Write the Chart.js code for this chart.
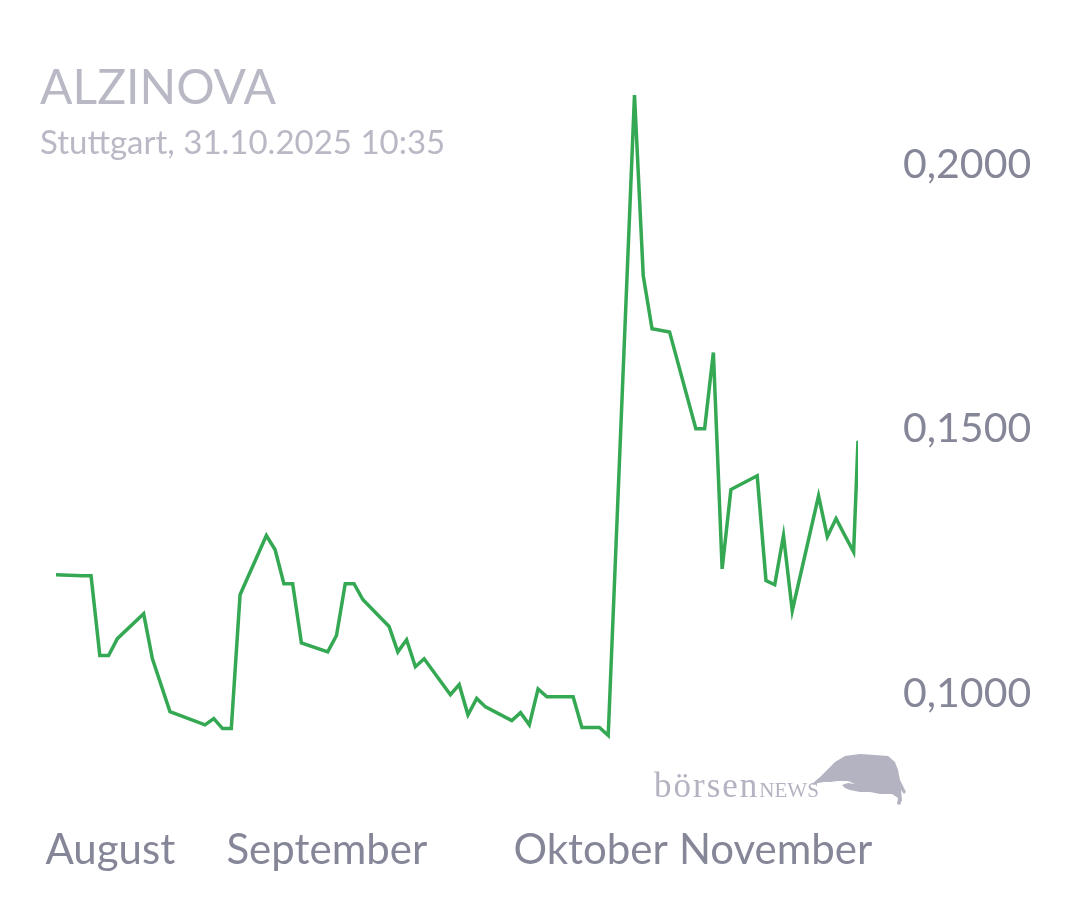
<!DOCTYPE html>
<html>

<head>
  <title>ALZINOVA</title>
  <script src="https://cdn.jsdelivr.net/npm/chart.js"></script>
  <style>
    body {
      margin: 0;
      background: #fff;
    }

    .wrap {
      position: relative;
      width: 1080px;
      height: 900px;
    }

    .title {
      position: absolute;
      left: 40px;
      top: 57px;
      font-family: Lato, sans-serif;
      font-size: 48px;
      color: #b9b9c6;
    }

    .subtitle {
      position: absolute;
      left: 40px;
      top: 121px;
      font-family: Lato, sans-serif;
      font-size: 33px;
      color: #b9b9c6;
    }

    .brand {
      position: absolute;
      left: 654px;
      top: 766px;
      font-family: "Liberation Serif", serif;
      font-size: 35px;
      letter-spacing: 2px;
      color: #b3b3c2;
    }

    .brand span {
      font-size: 21px;
      letter-spacing: 0;
    }

    .bull {
      position: absolute;
      left: 800px;
      top: 750px;
    }
  </style>
</head>

<body>
  <div class="wrap">
    <canvas id="chart" width="1080" height="900"></canvas>
    <div class="title">ALZINOVA</div>
    <div class="subtitle">Stuttgart, 31.10.2025 10:35</div>
    <div class="brand">börsen<span>NEWS</span></div>
    <svg class="bull" width="110" height="65" viewBox="0 0 110 65">
      <path d="M12 34 L20 27 L25 22 L35 12 L45 6 L60 4 L75 5 L88 6 L95 12 L98 20 L100 30 L104 38 L106 42 L104 44 L101 40 L102 50 L100 55 L97 54 L98 48 L92 44 L80 44 L70 42 L60 42 L50 40 L45 38 L42 35 L48 33 L55 34 L48 31 L38 31 L30 32 L24 32 L18 33 L14 35 Z" fill="#b3b3c2" />
    </svg>
  </div>
  <script>
    // trading day index (0 = first day shown) and close price at that day
    const dayIndex = [0, 3, 4, 5, 6, 7, 10, 11, 13, 17, 18, 19, 20, 21, 24, 25, 26, 27, 28, 31, 32, 33, 34, 35,
      38, 39, 40, 41, 42, 45, 46, 47, 48, 49, 52, 53, 54, 55, 56, 59, 60, 62, 63, 66, 67, 68, 70,
      73, 74, 75, 76, 77, 80, 81, 82, 83, 84, 87, 88, 89, 90, 91, 91.5];
    const prices = [0.1225, 0.1223, 0.1223, 0.1072, 0.1072, 0.1104, 0.1151, 0.1066, 0.0966, 0.0941, 0.0953,
      0.0934, 0.0934, 0.1187, 0.1299, 0.1272, 0.1208, 0.1208, 0.1096, 0.1079, 0.1110, 0.1208, 0.1208, 0.1178,
      0.1127, 0.1079, 0.1102, 0.1051, 0.1066, 0.0998, 0.1017, 0.0960, 0.0991, 0.0975, 0.0949, 0.0964, 0.0941,
      0.1009, 0.0994, 0.0994, 0.0936, 0.0936, 0.0921, 0.2132, 0.1790, 0.1690, 0.1684, 0.1501, 0.1501, 0.1645,
      0.1236, 0.1386, 0.1412, 0.1214, 0.1206, 0.1299, 0.1157, 0.1374, 0.1297, 0.1331, 0.1299, 0.1268, 0.1478];

    // month labels and where they sit on the day axis
    const monthLabels = ['August', 'September', 'Oktober', 'November'];
    const monthPos = [6.2, 30.9, 61, 82.1];

    const yTicks = [0.1, 0.15, 0.2];

    const points = dayIndex.map((d, i) => ({ x: d, y: prices[i] }));
    const axisColor = '#868699';

    new Chart(document.getElementById('chart'), {
      type: 'line',
      data: {
        datasets: [{
          data: points,
          borderColor: '#34a853',
          borderWidth: 3.5,
          pointRadius: 0,
          tension: 0,
          fill: false
        }]
      },
      options: {
        responsive: false,
        animation: false,
        layout: {
          padding: { left: 56, top: 59, right: 0, bottom: 0 }
        },
        plugins: {
          legend: { display: false },
          tooltip: { enabled: false }
        },
        scales: {
          x: {
            type: 'linear',
            min: 0,
            max: 91.5,
            grid: { display: false, drawTicks: false },
            border: { display: false },
            afterBuildTicks: (scale) => {
              scale.ticks = monthPos.map(v => ({ value: v }));
            },
            afterFit: (scale) => {
              scale.height = 127;
              // labels are not at the edges, so no extra side padding
              scale.paddingLeft = 0;
              scale.paddingRight = 0;
            },
            ticks: {
              autoSkip: false,
              maxRotation: 0,
              padding: 52,
              color: axisColor,
              font: { family: 'Lato', size: 42 },
              callback: (value, index) => monthLabels[index]
            }
          },
          y: {
            position: 'right',
            min: 0.085,
            max: 0.22,
            grid: { display: false, drawTicks: false },
            border: { display: false },
            afterBuildTicks: (scale) => {
              scale.ticks = yTicks.map(v => ({ value: v }));
            },
            afterFit: (scale) => {
              scale.width = 222;
              scale.paddingTop = 0;
              scale.paddingBottom = 0;
            },
            ticks: {
              crossAlign: 'center',
              padding: 45,
              color: axisColor,
              font: { family: 'Lato', size: 41 },
              callback: (value) => value.toFixed(4).replace('.', ',')
            }
          }
        }
      }
    });
  </script>
</body>

</html>
